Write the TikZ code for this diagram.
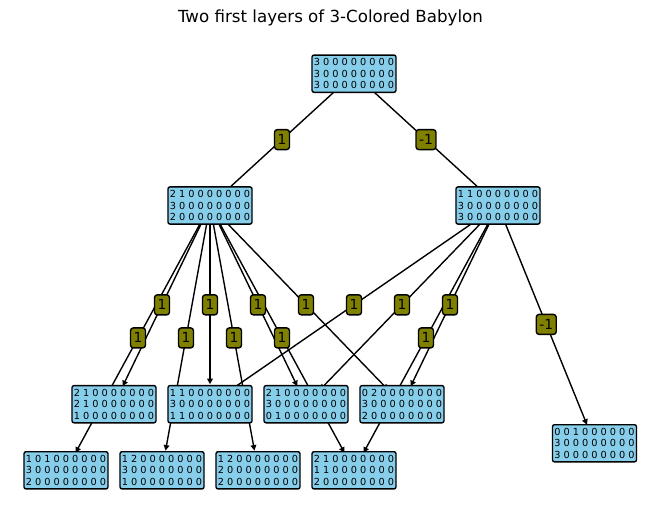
\documentclass[tikz,border=0pt]{standalone}
\usepackage{fontspec}
\setmainfont{DejaVu Sans}
\usetikzlibrary{calc,arrows.meta,backgrounds}
\definecolor{skyblue}{HTML}{87CEEB}
\definecolor{olivec}{HTML}{808000}
\begin{document}
\begin{tikzpicture}[x=0.72pt,y=-0.72pt,
 state/.style={draw=black,line width=1pt,fill=skyblue,rounded corners=1.5pt,minimum width=60.5pt,minimum height=26.8pt,inner sep=0pt,align=center,font=\fontsize{7}{8.4}\selectfont},
 lab/.style={draw=black,line width=1pt,fill=olivec,rounded corners=2pt,inner xsep=2.2pt,inner ysep=0pt,minimum height=14.4pt,font=\fontsize{10}{12}\selectfont},
 edge/.style={line width=1pt,-{Triangle[length=4pt,width=4pt]}}]
\useasboundingbox (0,0) rectangle (660,522);
\node[font=\fontsize{12}{14}\selectfont] (title) at (330.5,18) {Two first layers of 3-Colored Babylon};
\node[state] (R) at (354,73.7) {3 0 0 0 0 0 0 0 0\\3 0 0 0 0 0 0 0 0\\3 0 0 0 0 0 0 0 0};
\node[state] (A) at (210,205.5) {2 1 0 0 0 0 0 0 0\\3 0 0 0 0 0 0 0 0\\2 0 0 0 0 0 0 0 0};
\node[state] (B) at (498,205.5) {1 1 0 0 0 0 0 0 0\\3 0 0 0 0 0 0 0 0\\3 0 0 0 0 0 0 0 0};
\node[state] (C1) at (114,404.2) {2 1 0 0 0 0 0 0 0\\2 1 0 0 0 0 0 0 0\\1 0 0 0 0 0 0 0 0};
\node[state] (C2) at (210,404.2) {1 1 0 0 0 0 0 0 0\\3 0 0 0 0 0 0 0 0\\1 1 0 0 0 0 0 0 0};
\node[state] (C3) at (306,404.2) {2 1 0 0 0 0 0 0 0\\3 0 0 0 0 0 0 0 0\\0 1 0 0 0 0 0 0 0};
\node[state] (C4) at (402,404.2) {0 2 0 0 0 0 0 0 0\\3 0 0 0 0 0 0 0 0\\2 0 0 0 0 0 0 0 0};
\node[state] (D0) at (594.5,443.3) {0 0 1 0 0 0 0 0 0\\3 0 0 0 0 0 0 0 0\\3 0 0 0 0 0 0 0 0};
\node[state] (E1) at (66,470.3) {1 0 1 0 0 0 0 0 0\\3 0 0 0 0 0 0 0 0\\2 0 0 0 0 0 0 0 0};
\node[state] (E2) at (162,470.3) {1 2 0 0 0 0 0 0 0\\3 0 0 0 0 0 0 0 0\\1 0 0 0 0 0 0 0 0};
\node[state] (E3) at (258,470.3) {1 2 0 0 0 0 0 0 0\\2 0 0 0 0 0 0 0 0\\2 0 0 0 0 0 0 0 0};
\node[state] (E4) at (354,470.3) {2 1 0 0 0 0 0 0 0\\1 1 0 0 0 0 0 0 0\\2 0 0 0 0 0 0 0 0};
\foreach \s/\t/\l in {R/A/1, R/B/-1, A/C1/1, A/E1/1, A/C2/1, A/E2/1, A/E3/1, A/C3/1, A/E4/1, A/C4/1, B/C2/1, B/C3/1, B/C4/1, B/E4/1, B/D0/-1} {
  \begin{pgfonlayer}{background}
    \draw[edge] (\s.center) -- ($(\t.center)!14.4pt!(\s.center)$);
  \end{pgfonlayer}
  \path (\s.center) -- (\t.center) node[lab,midway] (l\s\t) {\l};
}
\end{tikzpicture}
\end{document}
